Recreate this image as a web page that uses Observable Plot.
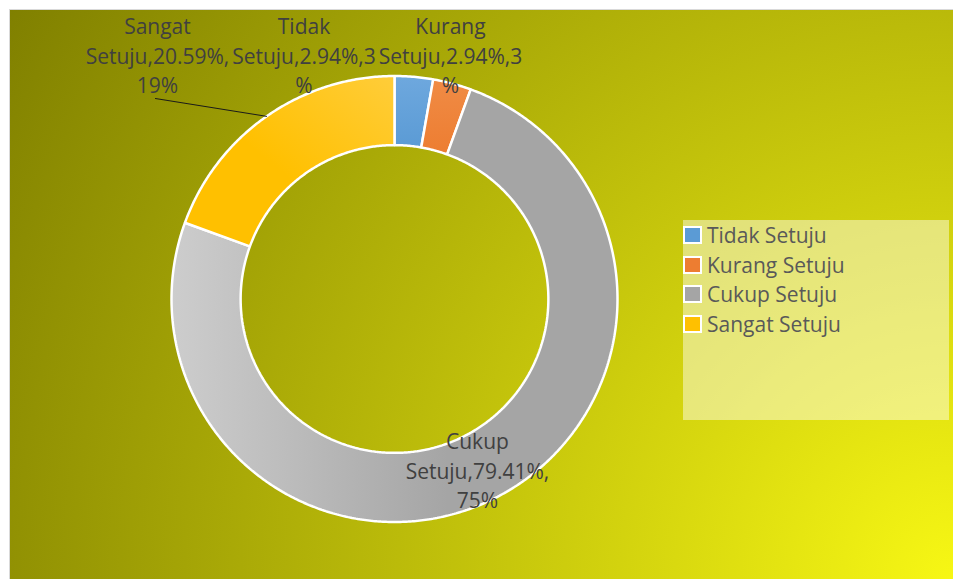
<!DOCTYPE html>
<html><head><meta charset="utf-8">
<script src="https://cdn.jsdelivr.net/npm/d3@7"></script>
<script src="https://cdn.jsdelivr.net/npm/@observablehq/plot@0.6"></script>
<style>
html,body{margin:0;padding:0;background:#fff;}
#wrap{position:relative;width:953px;height:579px;overflow:hidden;background:#fff;}
#area{position:absolute;left:9px;top:9px;width:944px;height:570px;border-left:1px solid #d9d9d9;border-top:1px solid #d9d9d9;box-sizing:border-box;background:radial-gradient(circle farthest-corner at 100% 100%, #f7f714 0%, #808000 100%);}
#chart{position:absolute;left:0;top:0;}
#legend{position:absolute;left:683px;top:220px;width:266px;height:200px;background:rgba(255,255,255,0.45);font-family:"Open Sans";font-size:21px;color:#595959;}
.item{position:absolute;left:0;height:20px;display:flex;align-items:center;white-space:nowrap;}
.sw{width:15px;height:14px;border:2px solid #fff;margin-right:5px;}
</style></head>
<body>
<div id="wrap"><div id="area"></div><div id="chart"></div><div id="legend"></div></div>
<script>
// ---- data ----
const categories = ["Tidak Setuju", "Kurang Setuju", "Cukup Setuju", "Sangat Setuju"];
const values = [2.94, 2.94, 79.41, 20.59];
const shares = ["3%", "3%", "75%", "19%"];
const labelTexts = [
  "Tidak\nSetuju,2.94%,3\n%",
  "Kurang\nSetuju,2.94%,3\n%",
  "Cukup\nSetuju,79.41%,\n75%",
  "Sangat\nSetuju,20.59%,\n19%"
];
const colors = ["#5b9bd5", "#ed7d31", "#a5a5a5", "#ffc000"];

// ---- layout (data units, outer radius = 1) ----
const innerRatio = 0.69;
const labelPos = [[-0.406, 1.097], [0.251, 1.097], [0.372, -0.763], [-1.063, 1.097]];
const leaderStart = [-1.072, 0.899];

const gradients = [
  {x1: 0, y1: 0, x2: 0, y2: 1, stops: [[0, "#6ea8de"], [1, "#5b9bd5"]]},
  {x1: 0, y1: 0, x2: 0, y2: 1, stops: [[0, "#f08b45"], [1, "#ed7d31"]]},
  {x1: 0, y1: 0, x2: 1, y2: 0, stops: [[0, "#cdcdcd"], [0.62, "#a5a5a5"], [1, "#a5a5a5"]]},
  {x1: 0, y1: 1, x2: 1, y2: 0, stops: [[0, "#ffc000"], [0.45, "#ffc000"], [1, "#ffcd3a"]]}
];

const total = d3.sum(values);
let cum = 0;
const slices = values.map((v, i) => {
  const a0 = cum / total * 2 * Math.PI;
  cum += v;
  const a1 = cum / total * 2 * Math.PI;
  const n = Math.max(4, Math.ceil((a1 - a0) / (Math.PI / 360)));
  const pts = [];
  for (let k = 0; k <= n; k++) { const a = a0 + (a1 - a0) * k / n; pts.push({x: Math.sin(a), y: Math.cos(a)}); }
  for (let k = n; k >= 0; k--) { const a = a0 + (a1 - a0) * k / n; pts.push({x: innerRatio * Math.sin(a), y: innerRatio * Math.cos(a)}); }
  return {i, a0, a1, pts};
});

const labels = labelTexts.map((t, i) => ({text: t, x: labelPos[i][0], y: labelPos[i][1]}));
const sMid = (slices[3].a0 + slices[3].a1) / 2;
const leader = [{x: leaderStart[0], y: leaderStart[1]}, {x: Math.sin(sMid), y: Math.cos(sMid)}];

const cx = 394, cy = 298.5, R = 223;
const chart = Plot.plot({
  width: 953, height: 579, margin: 0,
  style: {background: "transparent", fontFamily: "Open Sans"},
  x: {domain: [-1, 1], range: [cx - R, cx + R], axis: null},
  y: {domain: [-1, 1], range: [cy + R, cy - R], axis: null},
  marks: [
    ...slices.map(s => Plot.line(s.pts, {x: "x", y: "y", curve: "linear-closed", fill: `url(#slice-grad-${s.i})`, stroke: "white", strokeWidth: 2.5, strokeLinejoin: "miter"})),
    Plot.line(leader, {x: "x", y: "y", stroke: "#1a1a1a", strokeWidth: 1}),
    Plot.text(labels, {x: "x", y: "y", text: "text", fontSize: 21, lineHeight: 1.405, fill: "#404040", textAnchor: "middle", fontFamily: "Open Sans"})
  ]
});

const defs = d3.select(chart).insert("defs", ":first-child");
gradients.forEach((g, i) => {
  const lg = defs.append("linearGradient").attr("id", `slice-grad-${i}`)
    .attr("x1", g.x1).attr("y1", g.y1).attr("x2", g.x2).attr("y2", g.y2);
  g.stops.forEach(([o, c]) => lg.append("stop").attr("offset", o).attr("stop-color", c));
});
document.getElementById("chart").appendChild(chart);

// legend
const legend = d3.select("#legend");
const rowTops = [5, 34.5, 64, 93.5];
categories.forEach((c, i) => {
  const item = legend.append("div").attr("class", "item").style("top", rowTops[i] + "px");
  item.append("div").attr("class", "sw").style("background", colors[i]);
  item.append("span").text(c);
});
</script>
</body></html>
